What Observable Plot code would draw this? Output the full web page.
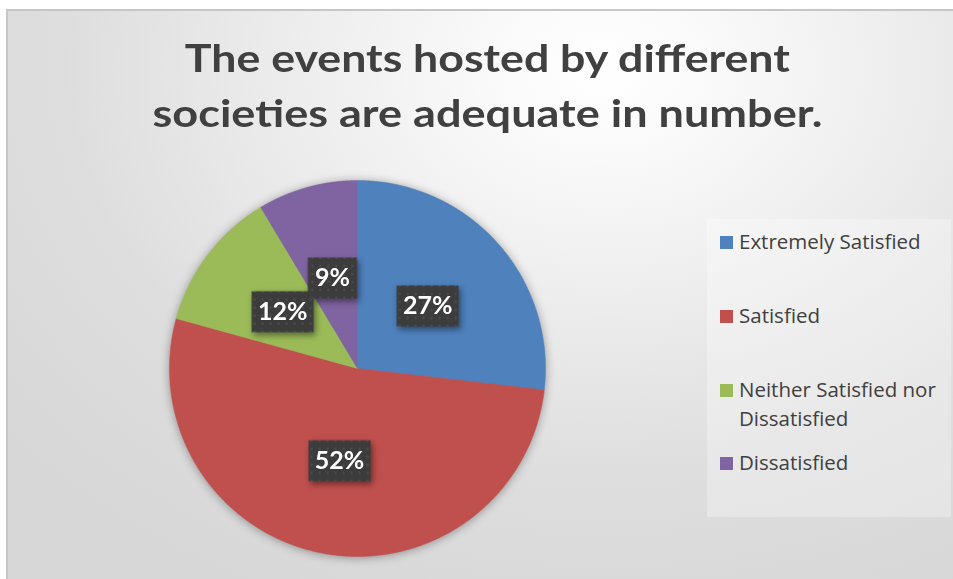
<!DOCTYPE html>
<html>
<head>
<meta charset="utf-8">
<script src="https://cdn.jsdelivr.net/npm/d3@7"></script>
<script src="https://cdn.jsdelivr.net/npm/@observablehq/plot@0.6"></script>
<style>
  html, body { margin: 0; padding: 0; background: #ffffff; }
  body { width: 953px; height: 579px; overflow: hidden; position: relative; font-family: Lato, "Open Sans", sans-serif; }
  #bg { position: absolute; left: 6px; top: 9px; width: 960px; height: 580px;
        border-left: 2px solid #c6c6c6; border-top: 2px solid #c6c6c6;
        background: radial-gradient(ellipse 80% 100% at 62% 10%, #ffffff 0%, #fafafa 14%, #ececec 42%, #dedede 70%, #d7d7d7 100%); }
  .tline { position: absolute; left: 0; width: 974px; text-align: center; font-family: Lato, sans-serif; font-weight: bold;
           font-size: 38px; line-height: 55px; color: #404040; white-space: nowrap; }
  .tline span { display: inline-block; transform-origin: 50% 50%; }
  #legendbox { position: absolute; left: 707px; top: 219px; width: 244px; height: 298px; background: rgba(255,255,255,0.3); }
  .sw { position: absolute; width: 13px; height: 13px; }
  .lt { position: absolute; left: 739px; width: 214px; font-family: "Open Sans", sans-serif; font-size: 20.5px; line-height: 29px; color: #404040; }
  #plot { position: absolute; left: 157px; top: 168px; }
</style>
</head>
<body>
<div id="bg"></div>
<svg width="0" height="0" style="position:absolute">
  <defs>
    <pattern id="lblpat" width="8" height="8" patternUnits="userSpaceOnUse">
      <rect width="8" height="8" fill="#3c3c3c"></rect>
      <circle cx="4" cy="4" r="1.1" fill="#555555"></circle>
    </pattern>
  </defs>
</svg>
<div id="title"></div>
<div id="legendbox"></div>
<div id="legend"></div>
<div id="plot"></div>
<script>
// ---- data ----
const titleLines = ["The events hosted by different", "societies are adequate in number."];
const categories = ["Extremely Satisfied", "Satisfied", "Neither Satisfied nor Dissatisfied", "Dissatisfied"];
const values = [26.8, 52.4, 12.1, 8.6];
const colors = ["#4f81bd", "#c0504d", "#9bbb59", "#8064a2"];

// ---- title ----
const titleTops = [30, 85];
const titleWidths = [605, 670];
const titleDiv = document.getElementById("title");
titleLines.forEach((t, i) => {
  const d = document.createElement("div");
  d.className = "tline";
  d.style.top = titleTops[i] + "px";
  const s = document.createElement("span");
  s.textContent = t;
  d.appendChild(s);
  titleDiv.appendChild(d);
  const w = s.getBoundingClientRect().width;
  s.style.transform = `scaleX(${titleWidths[i] / w})`;
});

// ---- legend ----
const legendDiv = document.getElementById("legend");
const swTops = [236, 310, 384, 457];
const textTops = [227, 301, 375, 448];
categories.forEach((c, i) => {
  const sw = document.createElement("div");
  sw.className = "sw";
  sw.style.left = "720px";
  sw.style.top = swTops[i] + "px";
  sw.style.background = colors[i];
  legendDiv.appendChild(sw);
  const t = document.createElement("div");
  t.className = "lt";
  t.style.top = textTops[i] + "px";
  t.textContent = c;
  legendDiv.appendChild(t);
});

// ---- pie geometry from data ----
const total = d3.sum(values);
let acc = 0;
const slices = values.map((v, i) => {
  const a0 = acc / total * 2 * Math.PI;
  acc += v;
  const a1 = acc / total * 2 * Math.PI;
  return {category: categories[i], value: v, a0, a1, pct: v / total};
});
const outline = slices.flatMap(s => {
  const n = Math.max(2, Math.ceil((s.a1 - s.a0) / (Math.PI / 360)));
  const pts = [{category: s.category, x: 0, y: 0}];
  for (let k = 0; k <= n; k++) {
    const a = s.a0 + (s.a1 - s.a0) * k / n;
    pts.push({category: s.category, x: Math.sin(a), y: Math.cos(a)});
  }
  pts.push({category: s.category, x: 0, y: 0});
  return pts;
});
const labels = slices.map(s => {
  const a = (s.a0 + s.a1) / 2;
  return {label: d3.format(".0%")(s.pct), x: 0.5 * Math.sin(a), y: 0.5 * Math.cos(a)};
});

const boxSymbol = {
  draw(ctx, size) {
    const w = Math.sqrt(size / Math.PI), h = 41;
    ctx.moveTo(-w / 2, -h / 2);
    ctx.lineTo(w / 2, -h / 2);
    ctx.lineTo(w / 2, h / 2);
    ctx.lineTo(-w / 2, h / 2);
    ctx.closePath();
  }
};

const D = 200 / 188;
const svg = Plot.plot({
  width: 400,
  height: 400,
  margin: 0,
  x: {domain: [-D, D], axis: null},
  y: {domain: [-D, D], axis: null},
  color: {domain: categories, range: colors},
  r: {type: "identity"},
  style: {background: "transparent", overflow: "visible"},
  marks: [
    Plot.line(outline, {x: "x", y: "y", z: "category", fill: "category", stroke: "category", strokeWidth: 0.5}),
    Plot.dot(labels, {x: "x", y: "y", r: d => 13 * d.label.length + 23, symbol: boxSymbol, fill: "url(#lblpat)", stroke: "none"}),
    Plot.text(labels, {x: "x", y: "y", text: "label", fill: "white", fontSize: 25, fontWeight: "bold", fontFamily: "Lato"})
  ]
});
document.getElementById("plot").appendChild(svg);
d3.select(svg).selectAll('g[aria-label="line"]').style("filter", "drop-shadow(0px 1px 5px rgba(0,0,0,0.35))");
d3.select(svg).selectAll('g[aria-label="dot"]').style("filter", "drop-shadow(2px 3px 3px rgba(0,0,0,0.45))");
</script>
</body>
</html>
